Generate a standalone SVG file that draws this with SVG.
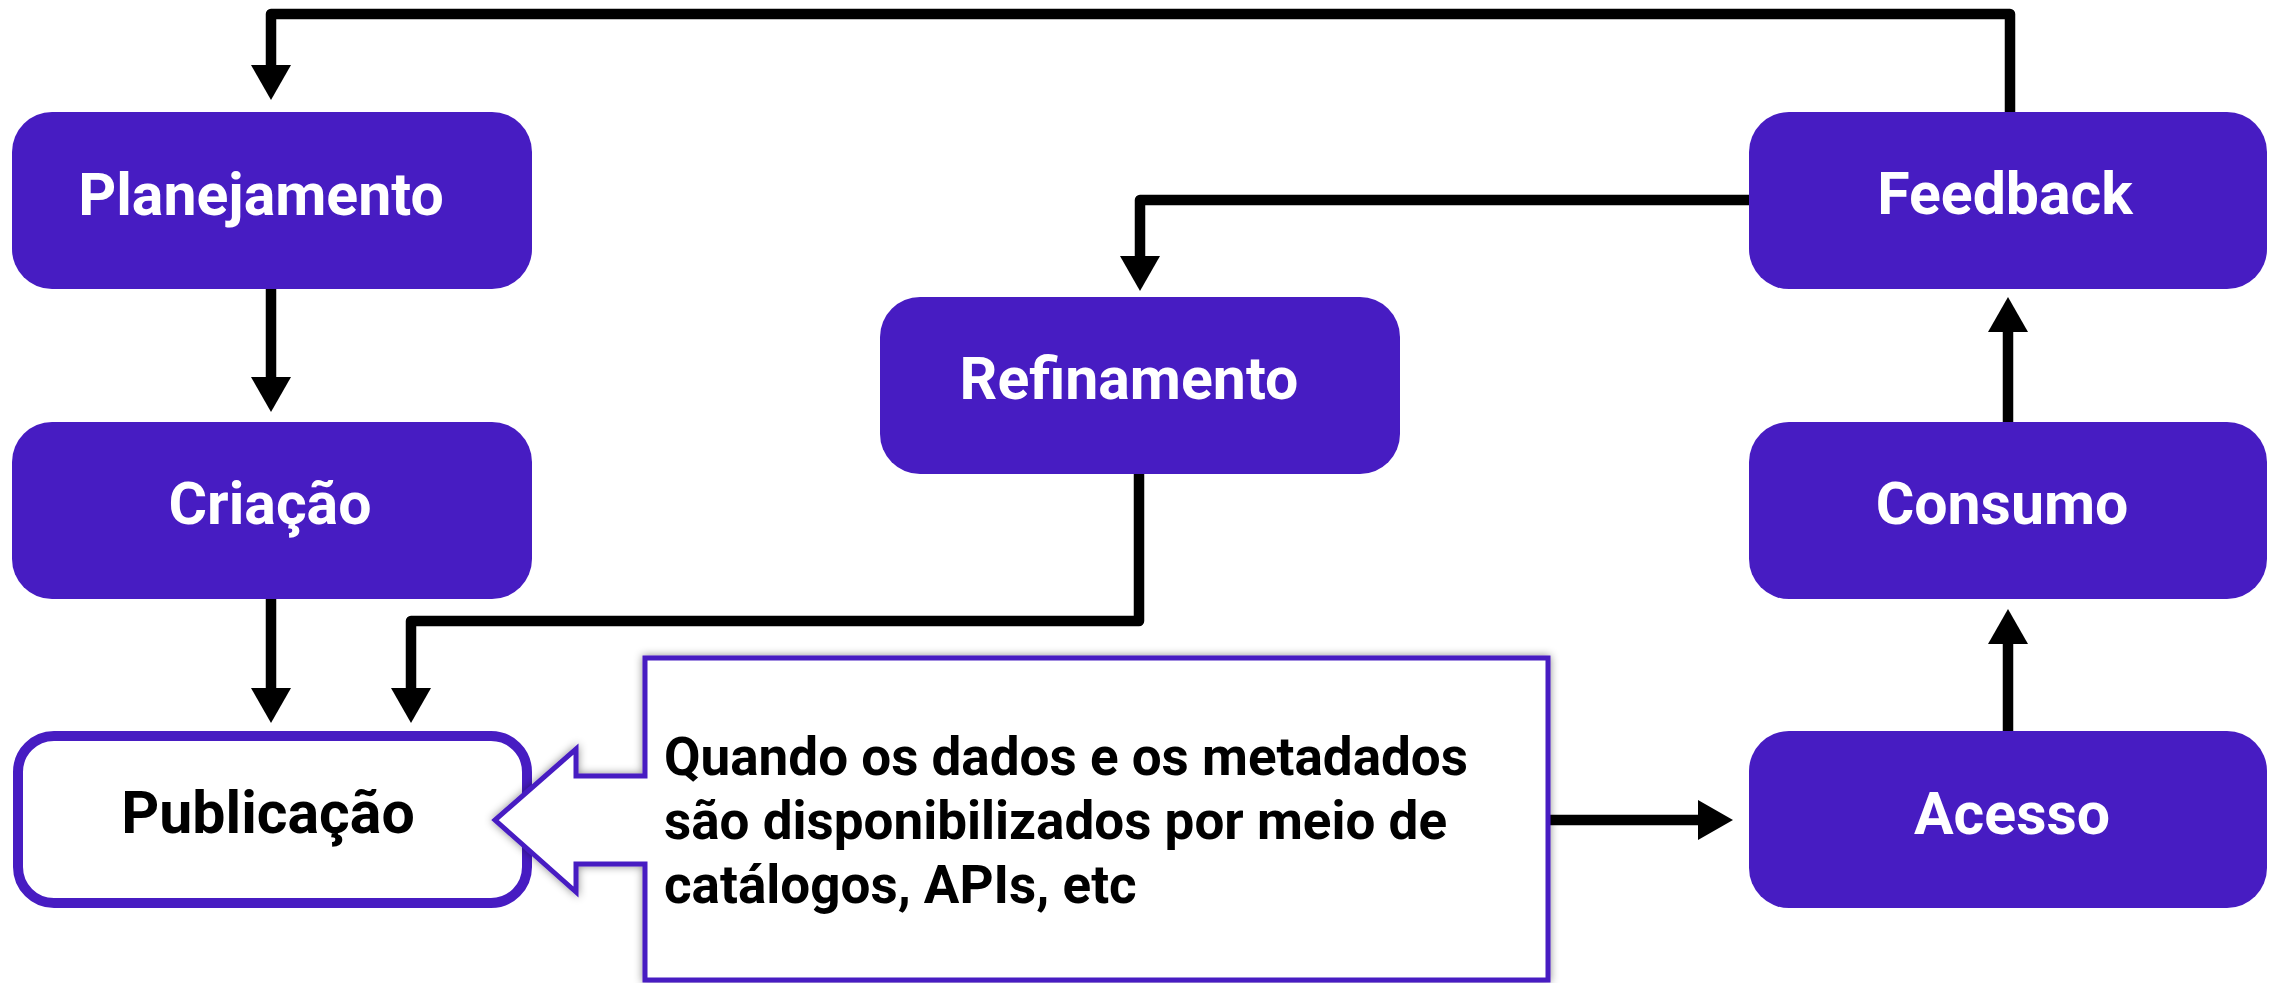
<svg xmlns="http://www.w3.org/2000/svg" width="2274" height="983" viewBox="0 0 2274 983">
<style>
.box{fill:#471cc2}
.wbox{fill:#ffffff;stroke:#471cc2;stroke-width:10}
.lbl{font-family:Roboto,"Liberation Sans",sans-serif;font-weight:bold;font-size:59px;fill:#ffffff;text-anchor:middle}
.dark{fill:#000000}
.con{fill:none;stroke:#000000;stroke-width:10.5;stroke-linejoin:round;marker-end:url(#ah)}
.note{font-family:Roboto,"Liberation Sans",sans-serif;font-weight:bold;font-size:53px;fill:#000000}
</style>
<defs>
<marker id="ah" markerUnits="userSpaceOnUse" markerWidth="36" markerHeight="40" refX="0" refY="20" orient="auto" viewBox="0 0 36 40">
<path d="M0,0 L35,20 L0,40 Z" fill="#000000"/>
</marker>
<filter id="sh" x="-5%" y="-5%" width="110%" height="110%">
<feDropShadow dx="0" dy="0" stdDeviation="4" flood-color="#000000" flood-opacity="0.45"/>
</filter>
</defs>
<rect width="2274" height="983" fill="#ffffff"/>
<g id="connectors">
<path class="con" d="M2010,112 V14 H271 V65"/>
<path class="con" d="M271,289 V377"/>
<path class="con" d="M271,599 V688"/>
<path class="con" d="M1749,200 H1140 V256"/>
<path class="con" d="M1139,474 V621 H411 V688"/>
<path class="con" d="M1550,820 H1698"/>
<path class="con" d="M2008,731 V644"/>
<path class="con" d="M2008,422 V332"/>
</g>
<g id="planejamento">
<rect class="box" x="12" y="112" width="520" height="177" rx="40"/>
<text class="lbl" x="261" y="215">Planejamento</text>
</g>
<g id="criacao">
<rect class="box" x="12" y="422" width="520" height="177" rx="40"/>
<text class="lbl" x="270" y="524">Criação</text>
</g>
<g id="publicacao">
<rect class="wbox" x="18" y="736" width="509" height="167" rx="36"/>
<text class="lbl dark" x="268" y="833">Publicação</text>
</g>
<g id="refinamento">
<rect class="box" x="880" y="297" width="520" height="177" rx="40"/>
<text class="lbl" x="1129" y="399">Refinamento</text>
</g>
<g id="feedback">
<rect class="box" x="1749" y="112" width="518" height="177" rx="40"/>
<text class="lbl" x="2005" y="214">Feedback</text>
</g>
<g id="consumo">
<rect class="box" x="1749" y="422" width="518" height="177" rx="40"/>
<text class="lbl" x="2002" y="524">Consumo</text>
</g>
<g id="acesso">
<rect class="box" x="1749" y="731" width="518" height="177" rx="40"/>
<text class="lbl" x="2012" y="834">Acesso</text>
</g>
<g id="callout">
<path d="M645,658 H1548 V980 H645 V864 H576 V892 L495,820 L576,749 V776 H645 Z" fill="#ffffff" stroke="#471cc2" stroke-width="5" filter="url(#sh)"/>
<text class="note" x="664" y="775">Quando os dados e os metadados</text>
<text class="note" x="664" y="839">são disponibilizados por meio de</text>
<text class="note" x="664" y="903">catálogos, APIs, etc</text>
</g>
</svg>
